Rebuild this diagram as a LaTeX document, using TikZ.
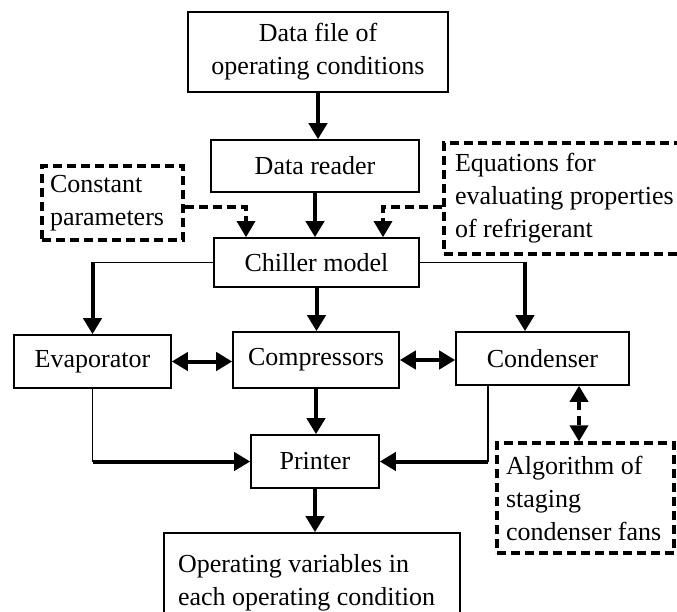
\documentclass[tikz,border=0pt]{standalone}
\usepackage{fontspec}
\setmainfont{Liberation Serif}
\usetikzlibrary{arrows.meta}

\begin{document}
\begin{tikzpicture}[x=1pt,y=-1pt,
  every node/.style={font=\fontsize{26}{33}\selectfont},
  box/.style={draw, line width=1.6pt, inner sep=0pt, align=center},
  dbox/.style={draw, line width=3.2pt, dash pattern=on 9pt off 5pt,
    inner ysep=0pt, align=flush left},
  thinline/.style={line width=1.6pt},
  flow/.style={line width=4pt, -{Triangle[width=18pt,length=16pt]}},
  flow2/.style={line width=4pt, {Triangle[width=18pt,length=16pt]}-{Triangle[width=18pt,length=16pt]}},
  side/.style={line width=3.2pt, dash pattern=on 9pt off 5pt,
    -{Triangle[width=18pt,length=16pt]}},
  side2/.style={line width=3.6pt, dash pattern=on 9pt off 6pt,
    {Triangle[width=18pt,length=16pt]}-{Triangle[width=18pt,length=16pt]}}]

\useasboundingbox (0,0) rectangle (677,612);

% blocks of the program
\node[box, minimum width=260pt, minimum height=80pt] (datafile) at (318,52)
  {Data file of\\operating conditions};
\node[box, minimum width=208pt, minimum height=52pt] (reader) at (315,166)
  {Data reader};
\node[box, minimum width=205pt, minimum height=49pt] (chiller) at (316.5,262.5)
  {Chiller model};
\node[box, minimum width=157pt, minimum height=53pt] (evap) at (92.5,361.5)
  {Evaporator};
\node[box, minimum width=166pt, minimum height=56pt] (comp) at (316,360)
  {Compressors};
\node[box, minimum width=173pt, minimum height=53pt] (cond) at (542.5,358.5)
  {Condenser};
\node[box, minimum width=128pt, minimum height=53pt] (printer) at (315,461.5)
  {Printer};
\node[box, align=flush left, inner xsep=14pt, text width=268pt,
  minimum height=100pt] (output) at (312,583)
  {Operating variables in\\each operating condition};

% auxiliary inputs (dashed)
\node[dbox, inner xsep=8pt, text width=125pt, minimum height=74pt]
  (constpar) at (112.5,203) {Constant\\parameters};
\node[dbox, inner xsep=11pt, text width=224pt, minimum height=111pt]
  (equations) at (567,198.5)
  {Equations for\\evaluating properties\\of refrigerant};
\node[dbox, inner xsep=9pt, text width=159pt, minimum height=110pt]
  (algo) at (585.5,498) {Algorithm of\\staging\\condenser fans};

% helper points
\coordinate (cpin) at ([xshift=-70.5pt]chiller.north);
\coordinate (eqin) at ([xshift=66.5pt]chiller.north);
\coordinate (cn) at ([xshift=-17.5pt]cond.north);
\coordinate (lc) at (chiller.west -| evap.north);
\coordinate (rc) at (chiller.east -| cn);
\coordinate (cs) at ([xshift=-54.5pt]cond.south);
\coordinate (ec) at (evap.south |- printer.west);
\coordinate (cc) at (cs |- printer.east);
\coordinate (ca) at ([xshift=36.5pt]cond.south);

% main flow
\draw[flow] (datafile.south) -- (datafile.south |- reader.north);
\draw[flow] (reader.south) -- (reader.south |- chiller.north);
\draw[flow] (chiller.south) -- (chiller.south |- comp.north);
\draw[thinline] (chiller.west) -- (lc);
\draw[flow] (lc) -- (evap.north);
\draw[thinline] (chiller.east) -- (rc);
\draw[flow] (rc) -- (cn);
\draw[flow2] (evap.east) -- (evap.east -| comp.west);
\draw[flow2] (comp.east) -- (comp.east -| cond.west);
\draw[flow] (comp.south) -- (comp.south |- printer.north);
\draw[thinline] (evap.south) -- (ec);
\draw[flow] (ec) -- (printer.west);
\draw[thinline] (cs) -- (cc);
\draw[flow] (cc) -- (printer.east);
\draw[flow] (printer.south) -- (printer.south |- output.north);

% dashed links
\draw[side] ([yshift=-4pt]constpar.east) -| (cpin);
\draw[side] ([yshift=-8.5pt]equations.west) -| (eqin);
\draw[side2] (ca) -- (ca |- algo.north);
\end{tikzpicture}
\end{document}
